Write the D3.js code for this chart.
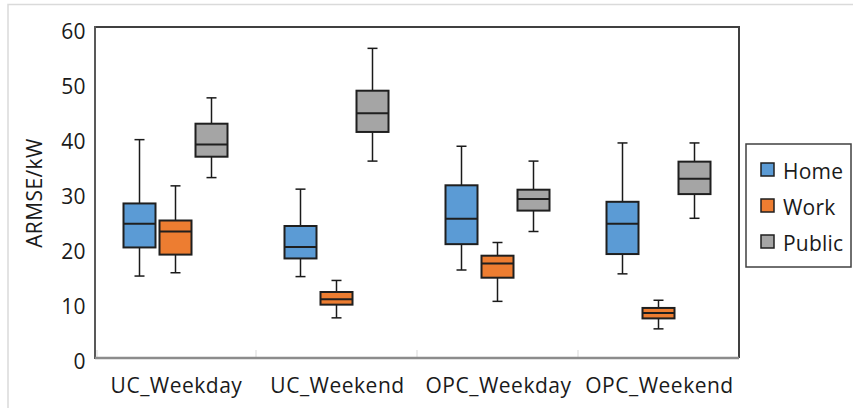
<!doctype html>
<html lang="en">
<head>
<meta charset="utf-8">
<title>ARMSE box plot</title>
<style>
body { margin: 0; background: #fff; }
text { font-family: "Open Sans", sans-serif; fill: #1a1a1a; }
</style>
</head>
<body>
<svg id="chart" width="853" height="408"></svg>
<script src="https://cdnjs.cloudflare.com/ajax/libs/d3/7.8.5/d3.min.js"></script>
<script>
// categories and series
var categories = ["UC_Weekday", "UC_Weekend", "OPC_Weekday", "OPC_Weekend"];
var seriesNames = ["Home", "Work", "Public"];
var seriesColors = ["#5b9bd5", "#ed7d31", "#a5a5a5"];
var yTicks = [0, 10, 20, 30, 40, 50, 60];

// [min, q1, median, q3, max] per category
var homeStats = [
    [14.9, 20.1, 24.4, 28.1, 39.7],
    [14.8, 18.1, 20.2, 24.0, 30.7],
    [16.0, 20.7, 25.3, 31.4, 38.5],
    [15.3, 18.9, 24.4, 28.4, 39.1]
];
var workStats = [
    [15.5, 18.8, 23.0, 25.0, 31.3],
    [7.3, 9.7, 10.7, 12.0, 14.1],
    [10.3, 14.6, 17.2, 18.6, 21.0],
    [5.3, 7.2, 8.2, 9.1, 10.5]
];
var publicStats = [
    [32.8, 36.6, 38.8, 42.6, 47.3],
    [35.8, 41.1, 44.5, 48.6, 56.3],
    [23.0, 26.8, 28.9, 30.6, 35.8],
    [25.4, 29.8, 32.6, 35.7, 39.1]
];
var allStats = [homeStats, workStats, publicStats];

var svg = d3.select("#chart");
var plotLeft = 95, plotRight = 739, plotTop = 28, plotBottom = 358;

var x = d3.scaleBand().domain(categories).range([plotLeft, plotRight]);
var inner = d3.scaleBand().domain(seriesNames).range([-54, 54]);
var y = d3.scaleLinear().domain([0, 60]).range([plotBottom, plotTop]);

// outer light frame
svg.append("path")
    .attr("d", "M8,408V4.5H853")
    .attr("fill", "none")
    .attr("stroke", "#dadada")
    .attr("stroke-width", 1.5);

// plot frame: top and right dark, left axis, bottom axis grey
svg.append("path")
    .attr("d", "M" + plotLeft + "," + (plotTop - 1) + "H" + plotRight + "V" + plotBottom)
    .attr("fill", "none").attr("stroke", "#404040").attr("stroke-width", 2);
svg.append("line")
    .attr("x1", plotLeft).attr("x2", plotLeft).attr("y1", plotTop - 2).attr("y2", plotBottom + 1)
    .attr("stroke", "#595959").attr("stroke-width", 2);

// category divider ticks
var dividers = categories.map(function(c) { return x(c); });
svg.selectAll(".divider").data(dividers.slice(1).concat([plotLeft + 2]))
    .enter().append("line")
    .attr("x1", function(d) { return d; }).attr("x2", function(d) { return d; })
    .attr("y1", plotBottom - 8).attr("y2", plotBottom)
    .attr("stroke", "#d9d9d9").attr("stroke-width", 1);

svg.append("line")
    .attr("x1", plotLeft).attr("x2", plotRight).attr("y1", plotBottom).attr("y2", plotBottom)
    .attr("stroke", "#8c8c8c").attr("stroke-width", 2.5);

// y tick labels
svg.selectAll(".ytick").data(yTicks).enter().append("text")
    .attr("x", 86)
    .attr("y", function(d) { return y(d) + 3; })
    .attr("text-anchor", "end")
    .attr("dominant-baseline", "central")
    .style("font-size", "21px")
    .style("letter-spacing", "0.4px")
    .text(function(d) { return d; });

// x labels
svg.selectAll(".xlabel").data(categories).enter().append("text")
    .attr("x", function(d) { return x(d) + x.bandwidth() / 2 + 1; })
    .attr("y", 393)
    .attr("text-anchor", "middle")
    .style("font-size", "21px")
    .style("letter-spacing", "0.5px")
    .text(function(d) { return d; });

// y title
svg.append("text")
    .attr("transform", "translate(42,193) rotate(-90)")
    .attr("text-anchor", "middle")
    .style("font-size", "21px")
    .style("letter-spacing", "0.4px")
    .text("ARMSE/kW");

// boxes
var boxW = inner.bandwidth() - 4, capW = 10;
seriesNames.forEach(function(s, si) {
    var g = svg.append("g");
    var rows = allStats[si].map(function(v, ci) {
        return { cx: x(categories[ci]) + x.bandwidth() / 2 + inner(s) + inner.bandwidth() / 2, v: v };
    });
    var b = g.selectAll("g").data(rows).enter().append("g");
    // whiskers
    b.append("line")
        .attr("x1", function(d) { return d.cx; }).attr("x2", function(d) { return d.cx; })
        .attr("y1", function(d) { return y(d.v[4]); }).attr("y2", function(d) { return y(d.v[0]); })
        .attr("stroke", "#1a1a1a").attr("stroke-width", 1.5);
    [0, 4].forEach(function(k) {
        b.append("line")
            .attr("x1", function(d) { return d.cx - capW / 2; })
            .attr("x2", function(d) { return d.cx + capW / 2; })
            .attr("y1", function(d) { return y(d.v[k]); })
            .attr("y2", function(d) { return y(d.v[k]); })
            .attr("stroke", "#1a1a1a").attr("stroke-width", 1.5);
    });
    b.append("rect")
        .attr("x", function(d) { return d.cx - boxW / 2; })
        .attr("width", boxW)
        .attr("y", function(d) { return y(d.v[3]); })
        .attr("height", function(d) { return y(d.v[1]) - y(d.v[3]); })
        .attr("fill", seriesColors[si])
        .attr("stroke", "#1f1f1f").attr("stroke-width", 2);
    b.append("line")
        .attr("x1", function(d) { return d.cx - boxW / 2; })
        .attr("x2", function(d) { return d.cx + boxW / 2; })
        .attr("y1", function(d) { return y(d.v[2]); })
        .attr("y2", function(d) { return y(d.v[2]); })
        .attr("stroke", "#1f1f1f").attr("stroke-width", 2);
});

// legend
var legend = svg.append("g");
legend.append("rect")
    .attr("x", 746).attr("y", 144).attr("width", 105).attr("height", 123)
    .attr("fill", "#fff").attr("stroke", "#404040").attr("stroke-width", 1.5);
var items = legend.selectAll(".item").data(seriesNames).enter().append("g")
    .attr("transform", function(d, i) { return "translate(761," + (163 + i * 36) + ")"; });
items.append("rect")
    .attr("width", 13).attr("height", 13)
    .attr("fill", function(d, i) { return seriesColors[i]; })
    .attr("stroke", "#1f1f1f").attr("stroke-width", 1.5);
items.append("text")
    .attr("x", 22).attr("y", 16)
    .style("font-size", "21px")
    .style("letter-spacing", "0.2px")
    .text(function(d) { return d; });
</script>
</body>
</html>
